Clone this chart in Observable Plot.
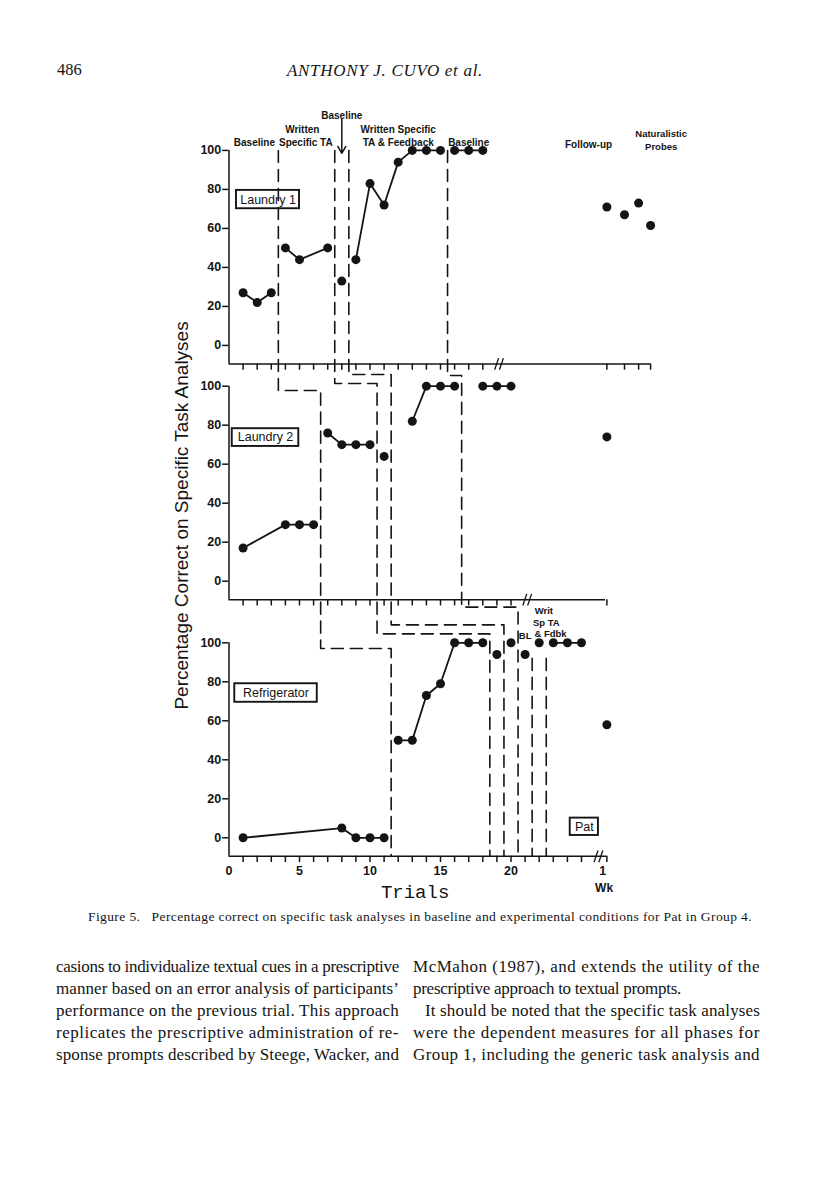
<!DOCTYPE html>
<html>
<head>
<meta charset="utf-8">
<script src="https://cdn.jsdelivr.net/npm/d3@7"></script>
<script src="https://cdn.jsdelivr.net/npm/@observablehq/plot@0.6"></script>
<style>
  body { margin: 0; background: #fff; }
  #page { position: relative; width: 816px; height: 1198px; overflow: hidden; font-family: "Liberation Serif", "DejaVu Serif", serif; color: #141414; }
  #chart { position: absolute; left: 0; top: 0; }
  .ln { position: absolute; white-space: pre; display: inline-block; line-height: 1; }
</style>
</head>
<body>
<div id="page">
  <div id="chart"></div>
</div>
<script>
// ---------- DATA ----------
// Laundry 1
const trialsL1 = [1, 2, 3, 4, 5, 7, 8, 9, 10, 11, 12, 13, 14, 15, 16, 17, 18];
const valuesL1 = [27, 22, 27, 50, 44, 50, 33, 44, 83, 72, 94, 100, 100, 100, 100, 100, 100];
const phaseL1  = ["a","a","a","b","b","b","c","d","d","d","d","d","d","d","e","e","e"];
const followTrialsL1 = [26.8, 28.05, 29.05, 29.9];
const followValuesL1 = [71, 67, 73, 61.5];
// Laundry 2
const trialsL2 = [1, 4, 5, 6, 7, 8, 9, 10, 11, 13, 14, 15, 16, 18, 19, 20];
const valuesL2 = [17, 29, 29, 29, 76, 70, 70, 70, 64, 82, 100, 100, 100, 100, 100, 100];
const phaseL2  = ["a","a","a","a","b","b","b","b","c","d","d","d","d","e","e","e"];
const followTrialsL2 = [26.8];
const followValuesL2 = [74];
// Refrigerator
const trialsR = [1, 8, 9, 10, 11, 12, 13, 14, 15, 16, 17, 18, 19, 20, 21, 22, 23, 24, 25];
const valuesR = [0, 5, 0, 0, 0, 50, 50, 73, 79, 100, 100, 100, 94, 100, 94, 100, 100, 100, 100];
const phaseR  = ["a","a","a","a","a","b","b","b","b","b","b","b","c","d","e","f","g","g","g"];
const followTrialsR = [26.8];
const followValuesR = [58];

const panelNames = ["Laundry 1", "Laundry 2", "Refrigerator"];
const yTickValues = [0, 20, 40, 60, 80, 100];
const xTickLabels = [0, 5, 10, 15, 20];
// phase-change lines (trial positions in each panel)
const phaseIds = ["A", "B", "C", "D"];
const phaseXL1 = [3.5, 7.5, 8.5, 15.5];
const phaseXL2 = [6.5, 10.5, 11.5, 16.5];
const phaseXR  = [11.5, 18.5, 19.5, 20.5];
const stepLevelL2 = [97.8, 101.4, 106, 105.5];   // connector height, Laundry 2 units
const stepLevelR  = [97.1, 104.6, 109.2, 118.3]; // connector height, Refrigerator units
const extraPhaseXR = [21.5, 22.5];
const extraPhaseTopR = 92;

// ---------- LAYOUT HELPERS ----------
const offsets = [252.5, 131.6, 0];   // vertical stacking of the three panels
const axisFloor = -9.5;
const axisEnds = [29.9, 26.7, 26.8];
const breakAt = [19.15, 21.15, 26.2];
const tickSets = [
  d3.range(1, 19).concat(followTrialsL1),
  d3.range(1, 21).concat(followTrialsL2),
  d3.range(1, 26).concat(followTrialsR)
];

const series = [
  [trialsL1, valuesL1, phaseL1],
  [trialsL2, valuesL2, phaseL2],
  [trialsR, valuesR, phaseR]
];
const points = [];
series.forEach(([t, v, p], k) => t.forEach((tr, i) => points.push({panel: k, trial: tr, value: v[i], seg: k + p[i], Y: v[i] + offsets[k]})));
const follows = [];
[[followTrialsL1, followValuesL1], [followTrialsL2, followValuesL2], [followTrialsR, followValuesR]]
  .forEach(([t, v], k) => t.forEach((tr, i) => follows.push({trial: tr, Y: v[i] + offsets[k]})));

const panels = panelNames.map((name, k) => ({name, k, off: offsets[k], end: axisEnds[k], brk: breakAt[k]}));
const yTicks = panels.flatMap(p => yTickValues.map(v => ({v, Y: v + p.off})));
const xTicks = panels.flatMap(p => tickSets[p.k].map(t => ({t, Y: p.off + axisFloor})));

const phasePath = [];
phaseIds.forEach((id, i) => {
  const s12 = stepLevelL2[i] + offsets[1], s23 = stepLevelR[i] + offsets[2];
  [[phaseXL1[i], offsets[0] + 100], [phaseXL1[i], s12], [phaseXL2[i], s12], [phaseXL2[i], s23],
   [phaseXR[i], s23], [phaseXR[i], offsets[2] + axisFloor]].forEach(([x, Y]) => phasePath.push({id, x, Y}));
});
extraPhaseXR.forEach((x, i) => {
  phasePath.push({id: "E" + i, x, Y: extraPhaseTopR + offsets[2]});
  phasePath.push({id: "E" + i, x, Y: axisFloor + offsets[2]});
});

const slashes = panels.flatMap(p => [-0.17, 0.17].map(dx => ({x: p.brk + dx, Y: p.off + axisFloor})));

const ink = "#141414";
const bold = {fontWeight: "bold", fill: ink};

const chart = Plot.plot({
  width: 816,
  height: 900,
  x: {domain: [0, 30], range: [228.5, 651.5], axis: null},
  y: {domain: [-20, 400], range: [876.3, 57.3], axis: null},
  style: {fontFamily: "'Liberation Sans', Arial, Helvetica, sans-serif", background: "transparent", overflow: "visible"},
  marks: [
    // panel label boxes
    Plot.rect([
      {x1: 0.53, x2: 5.0, y1: 70.1 + offsets[0], y2: 79.5 + offsets[0]},
      {x1: 0.23, x2: 4.95, y1: 69.1 + offsets[1], y2: 78.2 + offsets[1]},
      {x1: 0.41, x2: 6.26, y1: 69.5, y2: 79},
      {x1: 24.2, x2: 26.2, y1: 1.2, y2: 10.1}
    ], {x1: "x1", x2: "x2", y1: "y1", y2: "y2", fill: "none", stroke: ink, strokeWidth: 1.9}),
    Plot.text([
      {t: panelNames[0], x: 2.77, Y: 74.8 + offsets[0]},
      {t: panelNames[1], x: 2.59, Y: 73.7 + offsets[1]},
      {t: panelNames[2], x: 3.33, Y: 74.3},
      {t: "Pat", x: 25.2, Y: 5.7}
    ], {x: "x", y: "Y", text: "t", fontSize: 12.5, fill: ink}),
    // axes
    Plot.ruleX(panels, {x: () => 0, y1: d => d.off + axisFloor, y2: d => d.off + 100, stroke: ink, strokeWidth: 1.5}),
    Plot.ruleY(panels, {y: d => d.off + axisFloor, x1: () => 0, x2: d => d.end, stroke: ink, strokeWidth: 1.5}),
    Plot.ruleY(yTicks, {y: "Y", x1: () => -0.45, x2: () => 0, stroke: ink, strokeWidth: 1.5}),
    Plot.text(yTicks, {x: () => -0.55, y: "Y", text: d => String(d.v), textAnchor: "end", fontSize: 12.5, ...bold}),
    Plot.ruleX(xTicks, {x: "t", y1: "Y", y2: d => d.Y - 3.2, stroke: ink, strokeWidth: 1.5}),
    Plot.link(slashes, {x1: d => d.x - 0.14, x2: d => d.x + 0.14, y1: d => d.Y - 3, y2: d => d.Y + 3, stroke: ink, strokeWidth: 1.3}),
    Plot.text(xTickLabels, {x: d => d, y: () => -16.8, text: d => String(d), fontSize: 12.5, ...bold}),
    Plot.text(["1"], {x: () => 26.5, y: () => -16.8, text: d => d, fontSize: 12.5, ...bold}),
    Plot.text(["Wk"], {x: () => 26.6, y: () => -26, text: d => d, fontSize: 12, ...bold}),
    Plot.text(["Trials"], {x: () => 13.2, y: () => -28, text: d => d, fontSize: 19, fontFamily: "'Liberation Mono', 'DejaVu Sans Mono', monospace", fill: ink}),
    Plot.text(["Percentage Correct on Specific Task Analyses"], {x: () => -3.37, y: () => 165.3, text: d => d, rotate: -90, fontSize: 19, fill: ink}),
    // phase change lines
    Plot.line(phasePath, {x: "x", y: "Y", z: "id", stroke: ink, strokeWidth: 1.6, strokeDasharray: "12,7", curve: "linear"}),
    // data
    Plot.line(points, {x: "trial", y: "Y", z: "seg", stroke: ink, strokeWidth: 1.8}),
    Plot.dot(points, {x: "trial", y: "Y", r: 4.5, fill: ink, stroke: "none"}),
    Plot.dot(follows, {x: "trial", y: "Y", r: 4.5, fill: ink, stroke: "none"}),
    // condition labels
    Plot.arrow([0], {x1: () => 8.0, x2: () => 8.0, y1: () => 368.5, y2: () => 351, stroke: ink, strokeWidth: 1.5, headLength: 8}),
    Plot.text([
      {t: "Baseline", x: 8.0, Y: 370.4},
      {t: "Written", x: 5.2, Y: 363.2},
      {t: "Baseline", x: 1.8, Y: 356.2},
      {t: "Specific TA", x: 5.45, Y: 356.2},
      {t: "Written Specific", x: 12.0, Y: 363.2},
      {t: "TA & Feedback", x: 12.0, Y: 356.2},
      {t: "Baseline", x: 17.0, Y: 356.2},
      {t: "Follow-up", x: 25.5, Y: 355.5}
    ], {x: "x", y: "Y", text: "t", fontSize: 10, ...bold}),
    Plot.text([
      {t: "Naturalistic", x: 30.65, Y: 361},
      {t: "Probes", x: 30.65, Y: 354.5},
      {t: "BL", x: 21.0, Y: 103.7},
      {t: "Writ", x: 22.33, Y: 116.2},
      {t: "Sp TA", x: 22.5, Y: 110},
      {t: "& Fdbk", x: 22.8, Y: 104.6}
    ], {x: "x", y: "Y", text: "t", fontSize: 9.5, ...bold})
  ]
});
document.getElementById("chart").appendChild(chart);

// ---------- PAGE TEXT ----------
const page = document.getElementById("page");
function addLine(text, left, top, size, target, opts = {}) {
  const el = document.createElement("span");
  el.className = "ln";
  el.textContent = text;
  el.style.left = left + "px";
  el.style.top = top + "px";
  el.style.fontSize = size + "px";
  if (opts.italic) el.style.fontStyle = "italic";
  page.appendChild(el);
  if (target) {
    const w = el.getBoundingClientRect().width;
    el.style.letterSpacing = ((target - w) / text.length) + "px";
  }
  return el;
}
addLine("486", 57, 62, 16.5, 0);
addLine("ANTHONY J. CUVO et al.", 287, 62, 17, 196, {italic: true});
addLine("Figure 5.   Percentage correct on specific task analyses in baseline and experimental conditions for Pat in Group 4.", 88, 910, 13.5, 664);

const leftCol = [
  "casions to individualize textual cues in a prescriptive",
  "manner based on an error analysis of participants’",
  "performance on the previous trial. This approach",
  "replicates the prescriptive administration of re-",
  "sponse prompts described by Steege, Wacker, and"
];
const rightCol = [
  ["McMahon (1987), and extends the utility of the", 413, 347],
  ["prescriptive approach to textual prompts.", 413, 268],
  ["It should be noted that the specific task analyses", 425, 335],
  ["were the dependent measures for all phases for", 413, 347],
  ["Group 1, including the generic task analysis and", 413, 347]
];
const lineTops = [958, 980, 1002, 1024, 1046];
leftCol.forEach((t, i) => addLine(t, 56, lineTops[i], 17, 343));
rightCol.forEach(([t, l, w], i) => addLine(t, l, lineTops[i], 17, w));
</script>
</body>
</html>
